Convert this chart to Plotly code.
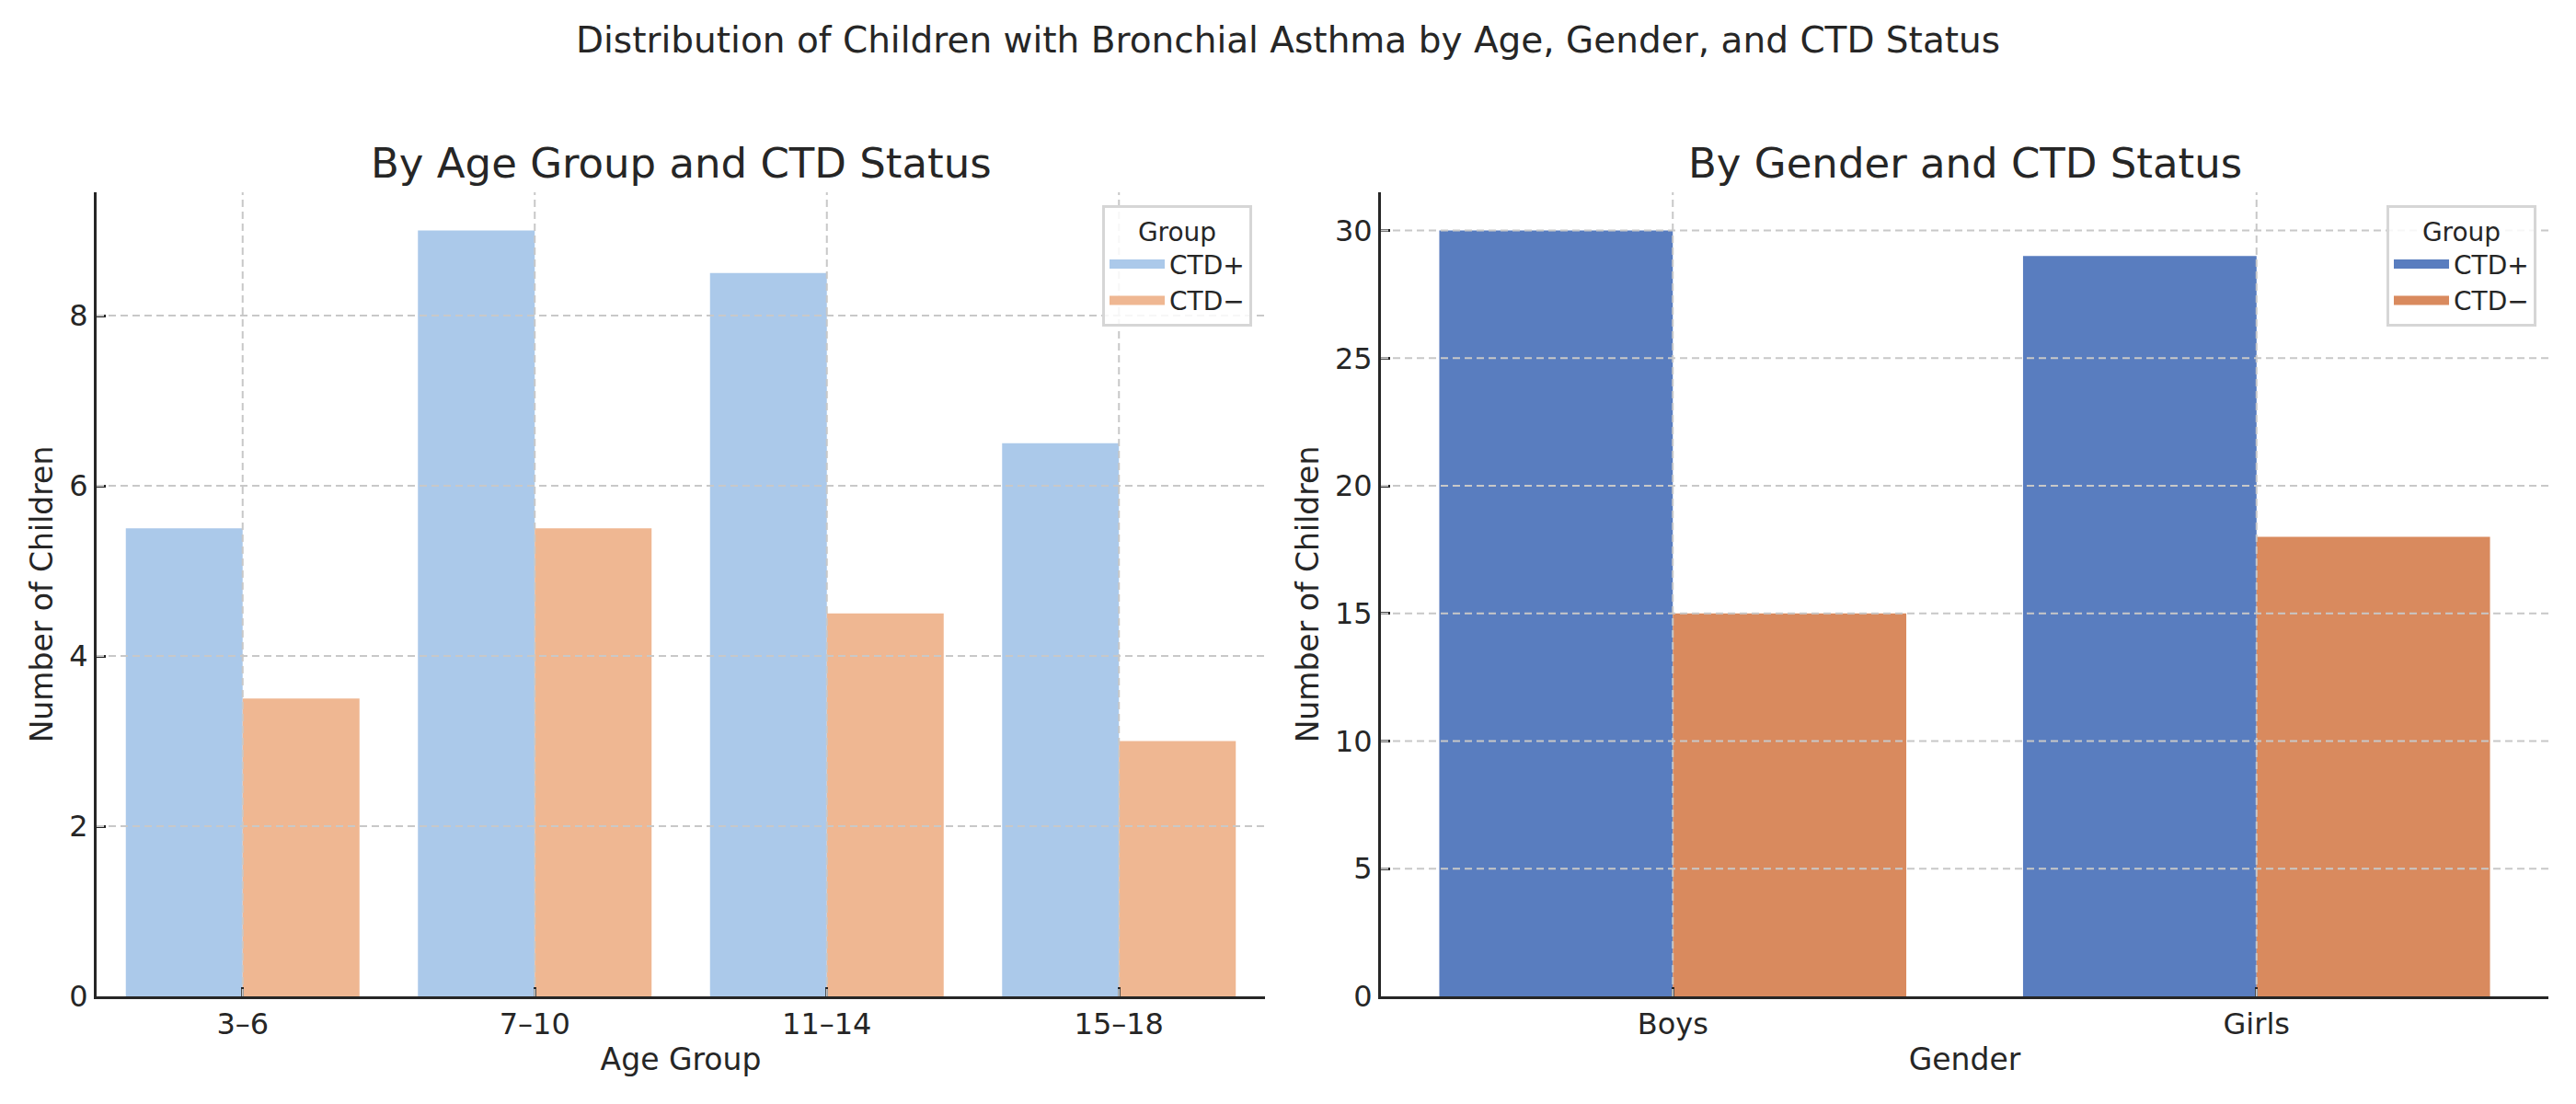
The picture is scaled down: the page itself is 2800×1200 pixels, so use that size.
import plotly.graph_objects as go

# ---- data ----
age_groups = ["3–6", "7–10", "11–14", "15–18"]
age_ctd_pos = [5.5, 9, 8.5, 6.5]
age_ctd_neg = [3.5, 5.5, 4.5, 3]

genders = ["Boys", "Girls"]
gender_ctd_pos = [30, 29]
gender_ctd_neg = [15, 18]

series_names = ["CTD+", "CTD−"]
left_yticks = [0, 2, 4, 6, 8]
right_yticks = [0, 5, 10, 15, 20, 25, 30]

main_title = "Distribution of Children with Bronchial Asthma by Age, Gender, and CTD Status"
left_title = "By Age Group and CTD Status"
right_title = "By Gender and CTD Status"

# ---- style ----
FONT = "DejaVu Sans"
TXT = "#262626"
GRID = "#c8c8c8"
left_colors = ["#abc9ea", "#efb792"]
right_colors = ["#597dbf", "#d98a5e"]

# page has an 8px body margin; figure sized so the page is exactly 2800x1200
OFF = 8
W, H = 2800 - 2 * OFF, 1200 - 2 * OFF


def px(v):
    return (v - OFF) / W


def py(v):
    return 1 - (v - OFF) / H


fig = go.Figure()
panels = [
    ("x", "y", "legend", age_groups, [age_ctd_pos, age_ctd_neg], left_colors),
    ("x2", "y2", "legend2", genders, [gender_ctd_pos, gender_ctd_neg], right_colors),
]
for xa, ya, lg, cats, vals, cols in panels:
    for name, v, c in zip(series_names, vals, cols):
        fig.add_trace(go.Bar(x=cats, y=v, name=name, marker_color=c, marker_line_width=0,
                             xaxis=xa, yaxis=ya, showlegend=False, offsetgroup=name))
    # legend entries (wide patches like the reference)
    for name, c in zip(series_names, cols):
        fig.add_trace(go.Scatter(x=[None], y=[None], mode="lines", name=name,
                                 line=dict(color=c, width=20), xaxis=xa, yaxis=ya, legend=lg,
                                 hoverinfo="skip"))

L_dom = [px(105), px(1375)]
R_dom = [px(1501), px(2770)]
Y_dom = [py(1083), py(209)]

common_x = dict(showline=True, linecolor=TXT, linewidth=3, ticks="inside", ticklen=10, tickwidth=2.5,
                tickcolor=TXT, showgrid=False, zeroline=False, layer="above traces", automargin=False,
                tickfont=dict(family=FONT, size=32, color=TXT),
                title_font=dict(family=FONT, size=33, color=TXT), title_standoff=9)
common_y = dict(showline=True, linecolor=TXT, linewidth=3, ticks="inside", ticklen=10, tickwidth=2.5,
                tickcolor=TXT, showgrid=False, zeroline=False, layer="above traces", automargin=False,
                tickfont=dict(family=FONT, size=32, color=TXT),
                title_font=dict(family=FONT, size=33, color=TXT), title_standoff=8)

legend_common = dict(xanchor="right", yanchor="top",
                     bgcolor="rgba(255,255,255,0.85)", bordercolor="#d6d6d6", borderwidth=3,
                     font=dict(family=FONT, size=28, color=TXT),
                     title=dict(text="Group", side="top center", font=dict(family=FONT, size=28, color=TXT)),
                     itemwidth=60, tracegroupgap=0)

fig.update_layout(
    width=W, height=H,
    margin=dict(l=0, r=0, t=0, b=0, autoexpand=False),
    paper_bgcolor="white", plot_bgcolor="white",
    font=dict(family=FONT, color=TXT),
    barmode="group", bargap=0.2, bargroupgap=0,
    xaxis=dict(domain=L_dom, anchor="y", range=[-0.5, len(age_groups) - 0.5],
               title_text="Age Group", **common_x),
    yaxis=dict(domain=Y_dom, anchor="x", range=[0, max(age_ctd_pos) * 1.05], tickvals=left_yticks,
               title_text="Number of Children", **common_y),
    xaxis2=dict(domain=R_dom, anchor="y2", range=[-0.5, len(genders) - 0.5],
                title_text="Gender", **common_x),
    yaxis2=dict(domain=Y_dom, anchor="x2", range=[0, max(gender_ctd_pos) * 1.05], tickvals=right_yticks,
                title_text="Number of Children", **common_y),
    legend=dict(x=px(1361), y=py(223), **legend_common),
    legend2=dict(x=px(2757), y=py(223), **legend_common),
    showlegend=True,
)

# titles
fig.add_annotation(text=main_title, x=0.5, y=py(43), xref="paper", yref="paper", xanchor="center",
                   showarrow=False, font=dict(family=FONT, size=39, color=TXT), yanchor="middle")
fig.add_annotation(text=left_title, x=(L_dom[0] + L_dom[1]) / 2, y=py(177), xref="paper", yref="paper",
                   xanchor="center", showarrow=False, font=dict(family=FONT, size=45, color=TXT),
                   yanchor="middle")
fig.add_annotation(text=right_title, x=(R_dom[0] + R_dom[1]) / 2, y=py(177), xref="paper", yref="paper",
                   xanchor="center", showarrow=False, font=dict(family=FONT, size=45, color=TXT),
                   yanchor="middle")

# dashed grid drawn above the bars (as in the reference)
grid_line = dict(color=GRID, width=2, dash="8px,5px")
for xa, ya, ticks, cats in [("x", "y", left_yticks, age_groups), ("x2", "y2", right_yticks, genders)]:
    for t in ticks:
        if t == 0:
            continue
        fig.add_shape(type="line", xref=f"{xa} domain", yref=ya, x0=0, x1=1, y0=t, y1=t,
                      line=grid_line, layer="above")
    for i, _ in enumerate(cats):
        fig.add_shape(type="line", xref=xa, yref=f"{ya} domain", x0=i, x1=i, y0=0, y1=1,
                      line=grid_line, layer="above")

fig.write_html("out.html")
